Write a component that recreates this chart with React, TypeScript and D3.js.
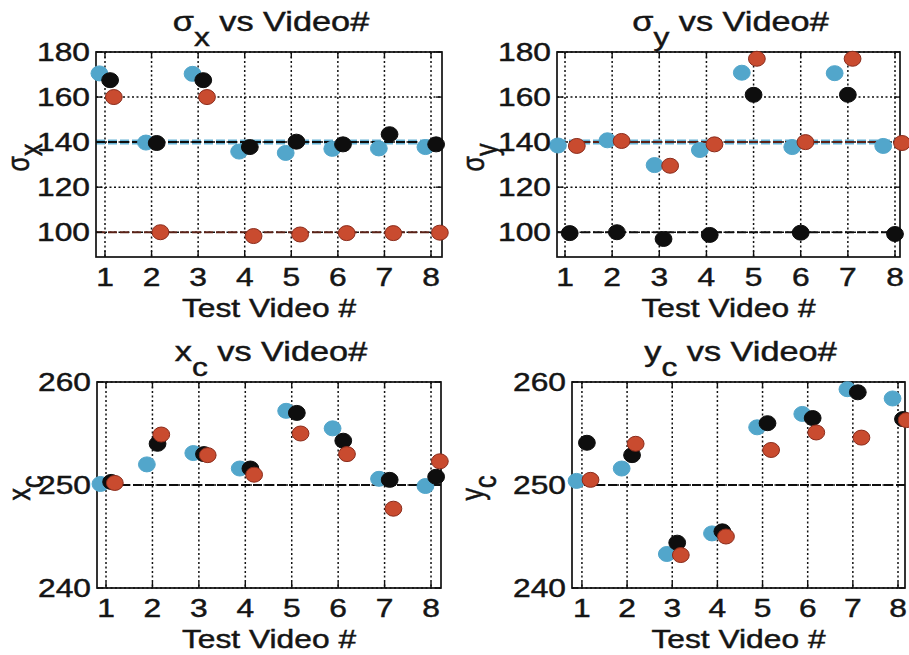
import React from "react";
import * as d3 from "d3";

// test video index
const videos = [1, 2, 3, 4, 5, 6, 7, 8];

// sigma_x estimates
const sigmaXCyan = [170.5, 139.8, 170.3, 135.8, 135.2, 137, 137.2, 137.8];
const sigmaXBlack = [167.5, 139.6, 167.5, 137.8, 140.2, 139, 143.5, 139];
const sigmaXRed = [160, 100, 160, 98.3, 99, 99.6, 99.6, 99.8];

// sigma_y estimates
const sigmaYCyan = [138.5, 140.8, 129.8, 136.5, 170.8, 137.8, 170.6, 138.3];
const sigmaYBlack = [99.6, 100, 97, 98.8, 161, 99.8, 161, 99.2];
const sigmaYRed = [138.3, 140.5, 129.5, 139, 177, 140, 177, 139.6];

// x_c estimates
const xcCyan = [250.1, 252, 253.1, 251.6, 257.2, 255.5, 250.6, 249.9];
const xcBlack = [250.3, 254, 253, 251.6, 257, 254.3, 250.5, 250.8];
const xcRed = [250.2, 254.9, 252.9, 251, 255, 253, 247.7, 252.3];

// y_c estimates
const ycCyan = [250.4, 251.6, 243.3, 245.3, 255.6, 256.9, 259.3, 258.4];
const ycBlack = [254.1, 252.9, 244.4, 245.5, 256, 256.5, 259, 256.4];
const ycRed = [250.5, 254, 243.2, 245, 253.4, 255.1, 254.6, 256.3];

// reference (true) values
const sigmaTrue = [140, 100];
const centerTrue = 250;

// horizontal spread of the three estimators around each video
const shiftCyan = [-0.12, -0.12, -0.12, -0.12, -0.12, -0.12, -0.12, -0.12];
const shiftBlack = [0.11, 0.11, 0.11, 0.11, 0.11, 0.11, 0.11, 0.11];
const shiftRed = [0.19, 0.19, 0.19, 0.19, 0.19, 0.19, 0.19, 0.19];
const sigmaYShiftCyan = [-0.15, -0.1, -0.1, -0.14, -0.25, -0.18, -0.28, -0.25];
const sigmaYShiftBlack = [0.1, 0.1, 0.09, 0.07, 0, 0, 0, 0];
const sigmaYShiftRed = [0.25, 0.2, 0.23, 0.17, 0.07, 0.1, 0.1, 0.15];

const sigmaTicks = [100, 120, 140, 160, 180];
const centerTicks = [240, 250, 260];

const CYAN = "#52a6cb";
const CYAN_LINE = "#68b3d5";
const BLACK = "#0e0e0e";
const RED = "#c94b2f";
const RED_EDGE = "#8a2c1c";
const RED_LINE = "#5a2116";
const FONT = "'Liberation Sans', Arial, Helvetica, sans-serif";
const SX = 1.27; // source image is stretched horizontally
const FS = 25;

type Series = { values: number[]; shift: number[]; fill: string; stroke: string };
type RefLine = { value: number; color: string; width: number };

type PanelProps = {
  box: [number, number, number, number];
  xDomain: [number, number];
  yDomain: [number, number];
  yTicks: number[];
  sym: string;
  sub: string;
  yLabelX: number;
  series: Series[];
  refs: RefLine[];
};

const SText = ({ x, y, anchor = "middle", rotate = false, size = FS, children }: any) => (
  <text
    transform={`translate(${x},${y}) scale(${SX},1)${rotate ? " rotate(-90)" : ""}`}
    textAnchor={anchor}
    fontSize={size}
    fontFamily={FONT}
    fill="#151515"
    stroke="#151515"
    strokeWidth={0.45}
  >
    {children}
  </text>
);

const Panel = ({ box, xDomain, yDomain, yTicks, sym, sub, yLabelX, series, refs }: PanelProps) => {
  const [x0, y0, x1, y1] = box;
  const x = d3.scaleLinear().domain(xDomain).range([x0, x1]);
  const y = d3.scaleLinear().domain(yDomain).range([y1, y0]);
  const cx = (x0 + x1) / 2;
  const cy = (y0 + y1) / 2;

  return (
    <g>
      {/* grid */}
      {videos.map((v) => (
        <line key={"gx" + v} x1={x(v)} x2={x(v)} y1={y0} y2={y1} stroke="#111" strokeWidth={1.5} strokeDasharray="2,2.5" />
      ))}
      {yTicks.map((t) => (
        <line key={"gy" + t} x1={x0} x2={x1} y1={y(t)} y2={y(t)} stroke="#111" strokeWidth={1.5} strokeDasharray="2,2.5" />
      ))}

      {/* reference lines */}
      {refs.map((r, i) => (
        <line key={"r" + i} x1={x0} x2={x1} y1={y(r.value)} y2={y(r.value)} stroke={r.color} strokeWidth={r.width} strokeDasharray="9,3" />
      ))}

      {/* box and inward ticks */}
      <rect x={x0} y={y0} width={x1 - x0} height={y1 - y0} fill="none" stroke="#111" strokeWidth={1.7} />
      {videos.map((v) => (
        <g key={"tx" + v}>
          <line x1={x(v)} x2={x(v)} y1={y1} y2={y1 - 6} stroke="#111" strokeWidth={1.4} />
          <line x1={x(v)} x2={x(v)} y1={y0} y2={y0 + 6} stroke="#111" strokeWidth={1.4} />
        </g>
      ))}
      {yTicks.map((t) => (
        <g key={"ty" + t}>
          <line x1={x0} x2={x0 + 6} y1={y(t)} y2={y(t)} stroke="#111" strokeWidth={1.4} />
          <line x1={x1 - 6} x2={x1} y1={y(t)} y2={y(t)} stroke="#111" strokeWidth={1.4} />
        </g>
      ))}

      {/* markers */}
      {series.map((s, si) =>
        s.values.map((val, i) => (
          <ellipse
            key={"m" + si + "-" + i}
            cx={x(videos[i] + s.shift[i])}
            cy={y(val)}
            rx={8.4}
            ry={7.5}
            fill={s.fill}
            stroke={s.stroke}
            strokeWidth={1}
          />
        ))
      )}

      {/* tick labels */}
      {videos.map((v) => (
        <SText key={"lx" + v} x={x(v)} y={y1 + 29}>
          {v}
        </SText>
      ))}
      {yTicks.map((t) => (
        <SText key={"ly" + t} x={x0 - 6} y={y(t) + 9} anchor="end">
          {t}
        </SText>
      ))}

      <SText x={cx} y={y1 + 60}>
        Test Video #
      </SText>

      {/* title */}
      <SText x={cx + 2} y={y0 - 21} size={27}>
        {sym}
        <tspan dy={15} fontSize={25}>{sub}</tspan>
        <tspan dy={-15}> vs Video#</tspan>
      </SText>

      {/* y label */}
      <SText x={yLabelX} y={cy + 3} rotate>
        {sym}
        <tspan dy={10}>{sub}</tspan>
      </SText>
    </g>
  );
};

export default function App() {
  const sigmaRange: [number, number] = [89, 180];
  const centerRange: [number, number] = [240, 260];
  return (
    <svg width={909} height={655} style={{ position: "absolute", left: 0, top: 0, background: "#fff" }}>
      <rect width={909} height={655} fill="#fff" />
      <Panel
        box={[96, 52, 442, 257]}
        xDomain={[0.807, 8.236]}
        yDomain={sigmaRange}
        yTicks={sigmaTicks}
        sym="σ"
        sub="x"
        yLabelX={29}
        refs={[
          { value: sigmaTrue[0], color: CYAN_LINE, width: 5 },
          { value: sigmaTrue[0], color: BLACK, width: 2 },
          { value: sigmaTrue[1], color: RED_LINE, width: 2 },
        ]}
        series={[
          { values: sigmaXCyan, shift: shiftCyan, fill: CYAN, stroke: CYAN },
          { values: sigmaXBlack, shift: shiftBlack, fill: BLACK, stroke: BLACK },
          { values: sigmaXRed, shift: shiftRed, fill: RED, stroke: RED_EDGE },
        ]}
      />
      <Panel
        box={[557, 52, 900, 257]}
        xDomain={[0.83, 8.106]}
        yDomain={sigmaRange}
        yTicks={sigmaTicks}
        sym="σ"
        sub="y"
        yLabelX={484}
        refs={[
          { value: sigmaTrue[0], color: CYAN_LINE, width: 5 },
          { value: sigmaTrue[0], color: RED_LINE, width: 2 },
          { value: sigmaTrue[1], color: BLACK, width: 2 },
        ]}
        series={[
          { values: sigmaYCyan, shift: sigmaYShiftCyan, fill: CYAN, stroke: CYAN },
          { values: sigmaYBlack, shift: sigmaYShiftBlack, fill: BLACK, stroke: BLACK },
          { values: sigmaYRed, shift: sigmaYShiftRed, fill: RED, stroke: RED_EDGE },
        ]}
      />
      <Panel
        box={[97, 382, 441, 588]}
        xDomain={[0.806, 8.215]}
        yDomain={centerRange}
        yTicks={centerTicks}
        sym="x"
        sub="c"
        yLabelX={30}
        refs={[{ value: centerTrue, color: BLACK, width: 2 }]}
        series={[
          { values: xcCyan, shift: shiftCyan, fill: CYAN, stroke: CYAN },
          { values: xcBlack, shift: shiftBlack, fill: BLACK, stroke: BLACK },
          { values: xcRed, shift: shiftRed, fill: RED, stroke: RED_EDGE },
        ]}
      />
      <Panel
        box={[572, 382, 905, 588]}
        xDomain={[0.78, 8.155]}
        yDomain={centerRange}
        yTicks={centerTicks}
        sym="y"
        sub="c"
        yLabelX={483}
        refs={[{ value: centerTrue, color: BLACK, width: 2 }]}
        series={[
          { values: ycCyan, shift: shiftCyan, fill: CYAN, stroke: CYAN },
          { values: ycBlack, shift: shiftBlack, fill: BLACK, stroke: BLACK },
          { values: ycRed, shift: shiftRed, fill: RED, stroke: RED_EDGE },
        ]}
      />
    </svg>
  );
}
